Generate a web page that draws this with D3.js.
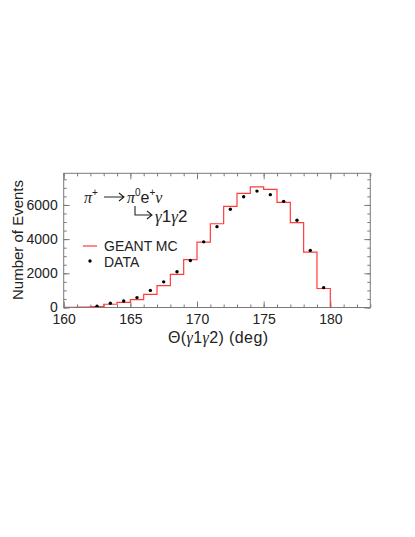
<!DOCTYPE html>
<html>
<head>
<meta charset="utf-8">
<script src="https://cdn.jsdelivr.net/npm/d3@7"></script>
<style>
  body { margin: 0; background: #fff; }
  svg { display: block; }
  text { font-family: "Liberation Sans", Arial, sans-serif; fill: #222; }
  .greek { font-family: "Liberation Serif", "Times New Roman", serif; font-style: italic; }
</style>
</head>
<body>
<svg width="415" height="537"></svg>
<script>
// Histograma MC (bordas esquerdas dos bins, 1 grau) e pontos dos dados
var binsMC = [160, 161, 162, 163, 164, 165, 166, 167, 168, 169, 170, 171,
              172, 173, 174, 175, 176, 177, 178, 179, 180, 181, 182];
var eventosMC = [10, 20, 50, 190, 300, 460, 770, 1275, 1940, 2800, 3820, 4900,
                 5920, 6680, 7060, 6910, 6150, 4970, 3240, 1110, 0, 0, 0];
var thetaDados = [162.5, 163.5, 164.5, 165.5, 166.5, 167.5, 168.5, 169.5, 170.5,
                  171.5, 172.5, 173.5, 174.5, 175.5, 176.5, 177.5, 178.5, 179.5];
var eventosDados = [70, 250, 380, 580, 1000, 1500, 2090, 2750, 3840,
                    4730, 5750, 6480, 6810, 6600, 6210, 5100, 3340, 1160];
var ticksX = [160, 165, 170, 175, 180];
var ticksY = [0, 2000, 4000, 6000];

var svg = d3.select("svg");
const esq = 63.7, dir = 370.3, topo = 173.3, base = 307.5;
const corMC = "#ff3b3b", corEixo = "#7a7a7a";

var x = d3.scaleLinear().domain([160, 183]).range([esq, dir]);
var y = d3.scaleLinear().domain([0, 7850]).range([base, topo]);

// Eixos com marcas para dentro (inferior, superior, esquerdo, direito)
function estiloEixo(g) {
  g.select(".domain").remove();
  g.selectAll("line").attr("stroke", corEixo);
  g.selectAll("text").attr("font-size", 14).attr("fill", "#222")
    .attr("font-family", "Liberation Sans, Arial, sans-serif");
}
var minX = d3.range(160, 184, 1), minY = d3.range(0, 7851, 500);

svg.append("g").attr("transform", "translate(0," + base + ")")
  .call(d3.axisBottom(x).tickValues(minX).tickSize(-3).tickFormat(""))
  .call(estiloEixo);
svg.append("g").attr("transform", "translate(0," + base + ")")
  .call(d3.axisBottom(x).tickValues(ticksX).tickSize(-6).tickPadding(7).tickFormat(d3.format("d")))
  .call(estiloEixo);
svg.append("g").attr("transform", "translate(0," + topo + ")")
  .call(d3.axisTop(x).tickValues(minX).tickSize(-3).tickFormat(""))
  .call(estiloEixo);
svg.append("g").attr("transform", "translate(0," + topo + ")")
  .call(d3.axisTop(x).tickValues(ticksX).tickSize(-6).tickFormat(""))
  .call(estiloEixo);
svg.append("g").attr("transform", "translate(" + esq + ",0)")
  .call(d3.axisLeft(y).tickValues(minY).tickSize(-3).tickFormat(""))
  .call(estiloEixo);
svg.append("g").attr("transform", "translate(" + esq + ",0)")
  .call(d3.axisLeft(y).tickValues(ticksY).tickSize(-6).tickPadding(6).tickFormat(d3.format("d")))
  .call(estiloEixo);
svg.append("g").attr("transform", "translate(" + dir + ",0)")
  .call(d3.axisRight(y).tickValues(minY).tickSize(-3).tickFormat(""))
  .call(estiloEixo);
svg.append("g").attr("transform", "translate(" + dir + ",0)")
  .call(d3.axisRight(y).tickValues(ticksY).tickSize(-6).tickFormat(""))
  .call(estiloEixo);

// Histograma MC em degraus
var pontosMC = binsMC.map(function(b, i) { return [b, eventosMC[i]]; });
pontosMC.push([183, eventosMC[eventosMC.length - 1]]);
svg.append("path")
  .datum(pontosMC)
  .attr("fill", "none")
  .attr("stroke", corMC)
  .attr("stroke-width", 1.2)
  .attr("d", d3.line()
    .x(function(d) { return x(d[0]); })
    .y(function(d) { return y(d[1]); })
    .curve(d3.curveStepAfter));

// Pontos dos dados
svg.append("g").selectAll("circle")
  .data(thetaDados)
  .enter().append("circle")
    .attr("cx", function(d) { return x(d); })
    .attr("cy", function(d, i) { return y(eventosDados[i]); })
    .attr("r", 1.7)
    .attr("fill", "#000");

// Moldura
svg.append("rect")
  .attr("x", esq).attr("y", topo)
  .attr("width", dir - esq).attr("height", base - topo)
  .attr("fill", "none").attr("stroke", corEixo).attr("stroke-width", 1);

// Rótulos dos eixos
svg.append("text")
  .attr("x", 218).attr("y", 343)
  .attr("text-anchor", "middle").attr("font-size", 16)
  .attr("textLength", 100)
  .html('Θ(<tspan class="greek">γ</tspan>1<tspan class="greek">γ</tspan>2) (deg)');
svg.append("text")
  .attr("transform", "translate(23,240) rotate(-90)")
  .attr("text-anchor", "middle").attr("font-size", 15)
  .text("Number of Events");

// Fórmula do decaimento
var formula = svg.append("g");
formula.append("text").attr("x", 84).attr("y", 203).attr("font-size", 16)
  .html('<tspan class="greek">π</tspan><tspan dy="-7" font-size="10">+</tspan>');
formula.append("text").attr("x", 127).attr("y", 203).attr("font-size", 16)
  .html('<tspan class="greek">π</tspan><tspan dy="-7" font-size="10">0</tspan>' +
        '<tspan dy="7">e</tspan><tspan dy="-7" font-size="10">+</tspan>' +
        '<tspan dy="7" class="greek">ν</tspan>');
formula.append("text").attr("x", 155).attr("y", 222).attr("font-size", 17)
  .html('<tspan class="greek">γ</tspan>1<tspan class="greek">γ</tspan>2');
var seta = d3.path();
seta.moveTo(104, 197); seta.lineTo(124, 197);
seta.moveTo(119, 193); seta.lineTo(124, 197); seta.lineTo(119, 201);
seta.moveTo(135, 206); seta.lineTo(135, 215); seta.lineTo(152, 215);
seta.moveTo(147, 211); seta.lineTo(152, 215); seta.lineTo(147, 219);
formula.append("path").attr("d", seta.toString())
  .attr("fill", "none").attr("stroke", "#222").attr("stroke-width", 1.1);

// Legenda
var legenda = svg.append("g");
legenda.append("line").attr("x1", 83).attr("x2", 97).attr("y1", 246).attr("y2", 246)
  .attr("stroke", corMC).attr("stroke-width", 1.2);
legenda.append("text").attr("x", 104).attr("y", 251).attr("font-size", 14).text("GEANT MC");
legenda.append("circle").attr("cx", 90).attr("cy", 261).attr("r", 1.7).attr("fill", "#000");
legenda.append("text").attr("x", 104).attr("y", 267).attr("font-size", 14).text("DATA");
</script>
</body>
</html>
